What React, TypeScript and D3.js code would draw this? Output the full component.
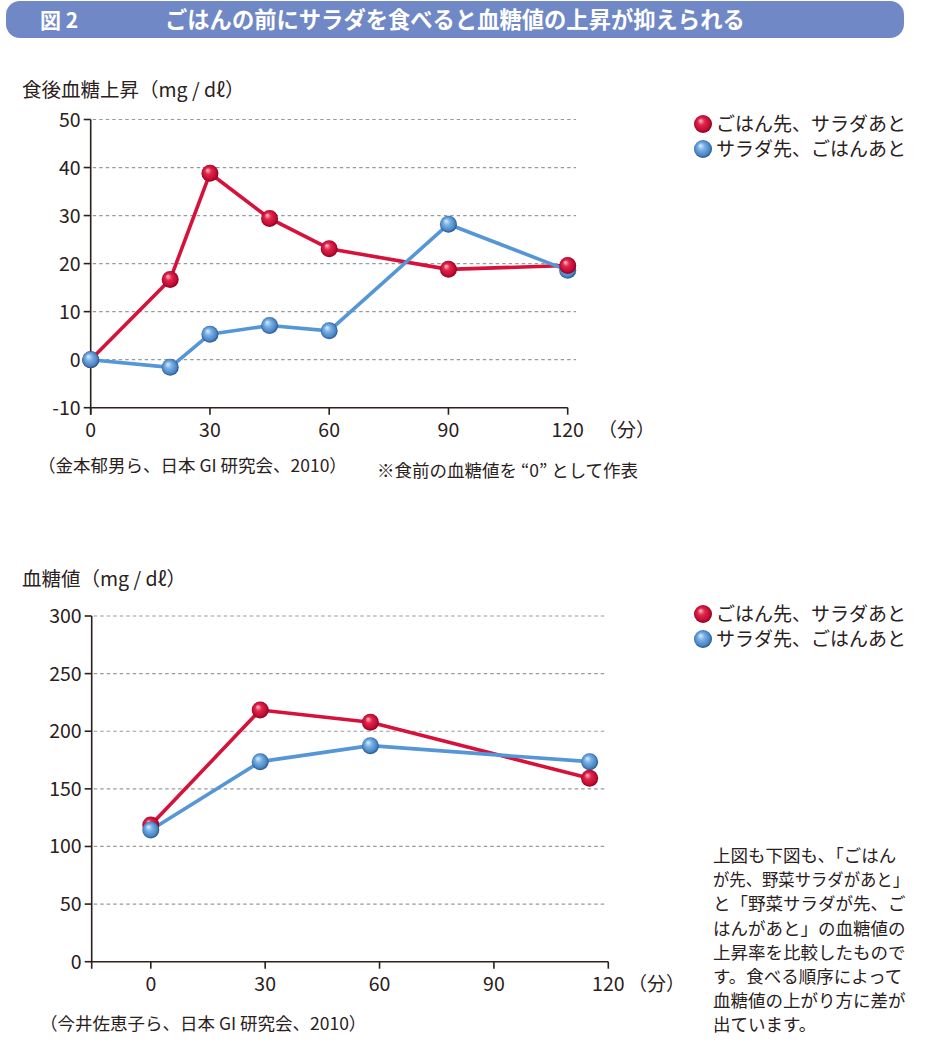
import React from "react";
import * as d3 from "d3";

// ---------- data ----------
const topMinutesRed = [0, 20, 30, 45, 60, 90, 120];
const topRiseRed = [0, 16.7, 38.8, 29.4, 23.1, 18.8, 19.6];
const topMinutesBlue = [0, 20, 30, 45, 60, 90, 120];
const topRiseBlue = [0, -1.6, 5.3, 7.1, 6.0, 28.2, 18.6];
const topYTicks = [-10, 0, 10, 20, 30, 40, 50];
const topXTicks = [0, 30, 60, 90, 120];

const botMinutes = [0, 28.7, 57.6, 115.1];
const botGlucoseRed = [118.6, 218.4, 207.8, 159.1];
const botGlucoseBlue = [114.3, 173.6, 187.5, 173.6];
const botYTicks = [0, 50, 100, 150, 200, 250, 300];
const botXTicks = [0, 30, 60, 90, 120];

const seriesNames = ["ごはん先、サラダあと", "サラダ先、ごはんあと"];
const noteLines = [
  "上図も下図も、「ごはん",
  "が先、野菜サラダがあと」",
  "と「野菜サラダが先、ご",
  "はんがあと」の血糖値の",
  "上昇率を比較したもので",
  "す。食べる順序によって",
  "血糖値の上がり方に差が",
  "出ています。",
];

const RED = "#d6113a";
const BLUE = "#5596d6";
const INK = "#2a201c";
const FONT = "'Noto Sans CJK JP', 'Noto Sans', sans-serif";

function Sphere({ x, y, color, r = 8.5 }: { x: number; y: number; color: string; r?: number }) {
  return <circle cx={x} cy={y} r={r} fill={`url(#g${color})`} />;
}

type ChartProps = {
  x: d3.ScaleLinear<number, number>;
  y: d3.ScaleLinear<number, number>;
  xTicks: number[];
  yTicks: number[];
  gridEnd: number;
  red: [number, number][];
  blue: [number, number][];
  redOnTopLast: boolean;
  unitX: number;
};

function Chart({ x, y, xTicks, yTicks, gridEnd, red, blue, redOnTopLast, unitX }: ChartProps) {
  const [x0] = x.range();
  const [yBottom, yTop] = y.range();
  const line = d3
    .line<[number, number]>()
    .x((d) => x(d[0]))
    .y((d) => y(d[1]));
  return (
    <g>
      {yTicks.slice(1).map((t) => (
        <line key={"g" + t} x1={x0 + 2} x2={gridEnd} y1={y(t)} y2={y(t)} stroke="#9a9a9a" strokeWidth={1.2} strokeDasharray="3.5,3" />
      ))}
      {/* axes */}
      <line x1={x0} x2={x0} y1={yTop} y2={yBottom + 7} stroke={INK} strokeWidth={1.6} />
      <line x1={x0} x2={x(120)} y1={yBottom} y2={yBottom} stroke={INK} strokeWidth={1.6} />
      {yTicks.map((t) => (
        <g key={"y" + t}>
          <line x1={x0 - 7} x2={x0} y1={y(t)} y2={y(t)} stroke={INK} strokeWidth={1.6} />
          <text x={x0 - 10} y={y(t)} dy="0.36em" textAnchor="end" fontSize={19.5} fill={INK} fontFamily={FONT}>
            {t}
          </text>
        </g>
      ))}
      {xTicks.map((t) => (
        <g key={"x" + t}>
          <line x1={x(t)} x2={x(t)} y1={yBottom} y2={yBottom + 7} stroke={INK} strokeWidth={1.6} />
          <text x={x(t)} y={yBottom + 29} textAnchor="middle" fontSize={19.5} fill={INK} fontFamily={FONT}>
            {t}
          </text>
        </g>
      ))}
      <text x={unitX} y={yBottom + 29} fontSize={19} fill={INK} fontFamily={FONT}>
        （分）
      </text>
      <path d={line(red) || ""} fill="none" stroke={RED} strokeWidth={3.6} strokeLinejoin="round" />
      <path d={line(blue) || ""} fill="none" stroke={BLUE} strokeWidth={3.6} strokeLinejoin="round" />
      {red.map((d, i) => (redOnTopLast && i === red.length - 1 ? null : <Sphere key={"r" + i} x={x(d[0])} y={y(d[1])} color="Red" />))}
      {blue.map((d, i) => (
        <Sphere key={"b" + i} x={x(d[0])} y={y(d[1])} color="Blue" />
      ))}
      {redOnTopLast && <Sphere x={x(red[red.length - 1][0])} y={y(red[red.length - 1][1])} color="Red" />}
    </g>
  );
}

function Legend({ top }: { top: number }) {
  return (
    <g fontFamily={FONT} fontSize={19} fill={INK}>
      {seriesNames.map((n, i) => (
        <g key={n}>
          <Sphere x={703} y={top + i * 25} color={i === 0 ? "Red" : "Blue"} r={9} />
          <text x={716} y={top + i * 25} dy="0.36em">
            {n}
          </text>
        </g>
      ))}
    </g>
  );
}

export default function App() {
  const xTop = d3.scaleLinear().domain([0, 120]).range([90.7, 567.7]);
  const yTop = d3.scaleLinear().domain([-10, 50]).range([407.7, 119.5]);
  const xBot = d3.scaleLinear().domain([-15.5, 120]).range([91.7, 608.3]);
  const yBot = d3.scaleLinear().domain([0, 300]).range([961.7, 616]);

  const topRed = topMinutesRed.map((m, i) => [m, topRiseRed[i]] as [number, number]);
  const topBlue = topMinutesBlue.map((m, i) => [m, topRiseBlue[i]] as [number, number]);
  const botRed = botMinutes.map((m, i) => [m, botGlucoseRed[i]] as [number, number]);
  const botBlue = botMinutes.map((m, i) => [m, botGlucoseBlue[i]] as [number, number]);

  return (
    <svg width={940} height={1062} style={{ display: "block", position: "absolute", left: 0, top: 0 }} fontFamily={FONT}>
      <defs>
        <radialGradient id="gRed" cx="0.5" cy="0.5" r="0.55" fx="0.35" fy="0.3">
          <stop offset="0" stopColor="#ffc2cc" />
          <stop offset="0.35" stopColor="#e0274d" />
          <stop offset="0.75" stopColor="#c20a33" />
          <stop offset="1" stopColor="#6e0018" />
        </radialGradient>
        <radialGradient id="gBlue" cx="0.5" cy="0.5" r="0.55" fx="0.35" fy="0.3">
          <stop offset="0" stopColor="#dcefff" />
          <stop offset="0.35" stopColor="#7ab2e6" />
          <stop offset="0.75" stopColor="#4a86c6" />
          <stop offset="1" stopColor="#1b3f72" />
        </radialGradient>
      </defs>
      <rect x={0} y={0} width={940} height={1062} fill="#ffffff" />

      {/* title bar */}
      <rect x={6} y={1} width={898} height={37} rx={14} fill="#7088c5" />
      <text x={40} y={28} fill="#fff" fontSize={21} fontWeight="bold">
        図 2
      </text>
      <text x={165} y={28} fill="#fff" fontSize={22.3} fontWeight="bold">
        ごはんの前にサラダを食べると血糖値の上昇が抑えられる
      </text>

      {/* top chart */}
      <text x={22} y={97} fontSize={19.5} fill={INK}>
        食後血糖上昇（mg / dℓ）
      </text>
      <Chart x={xTop} y={yTop} xTicks={topXTicks} yTicks={topYTicks} gridEnd={576} red={topRed} blue={topBlue} redOnTopLast={true} unitX={598} />
      <Legend top={124} />
      <text x={38} y={472} fontSize={17.5} fill={INK}>
        （金本郁男ら、日本 GI 研究会、2010）
      </text>
      <text x={377} y={477} fontSize={17.5} fill={INK}>
        ※食前の血糖値を “0” として作表
      </text>

      {/* bottom chart */}
      <text x={22} y={586} fontSize={19.5} fill={INK}>
        血糖値（mg / dℓ）
      </text>
      <Chart x={xBot} y={yBot} xTicks={botXTicks} yTicks={botYTicks} gridEnd={605} red={botRed} blue={botBlue} redOnTopLast={false} unitX={628} />
      <Legend top={614} />
      <text x={40} y={1030} fontSize={17.5} fill={INK}>
        （今井佐恵子ら、日本 GI 研究会、2010）
      </text>

      {/* note */}
      <g fontSize={17.5} fill={INK}>
        {noteLines.map((l, i) => (
          <text key={i} x={713} y={862 + i * 24.2} textLength={i === 1 ? 196 : undefined} lengthAdjust="spacingAndGlyphs">
            {l}
          </text>
        ))}
      </g>
    </svg>
  );
}
